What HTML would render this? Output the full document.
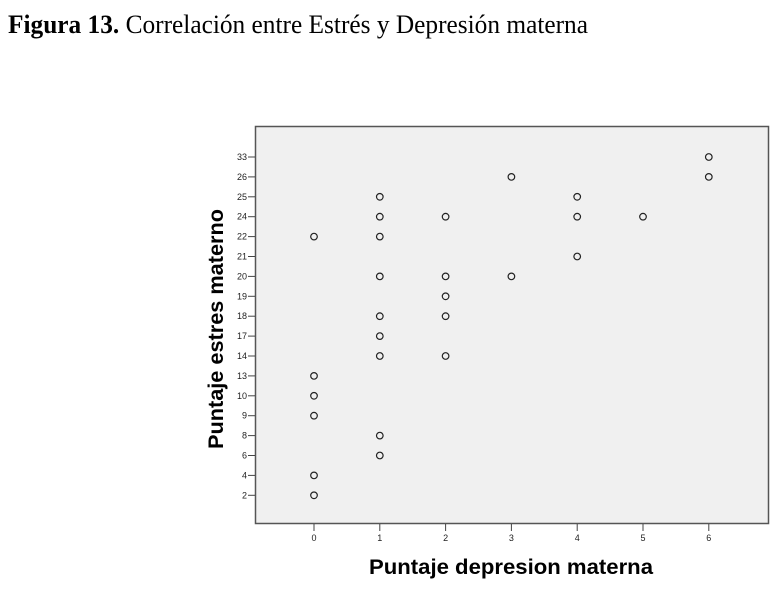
<!DOCTYPE html>
<html><head><meta charset="utf-8"><style>
body{margin:0;background:#fff;width:784px;height:587px;overflow:hidden;}
</style></head><body>
<svg width="784" height="587" xmlns="http://www.w3.org/2000/svg">
<text x="8" y="33" font-family="Liberation Serif" font-size="26" fill="#000" textLength="580" lengthAdjust="spacingAndGlyphs"><tspan font-weight="bold">Figura 13.</tspan> Correlación entre Estrés y Depresión materna</text>
<rect x="255.5" y="126.5" width="513" height="397" fill="#f0f0f0" stroke="#555" stroke-width="1.5"/>
<g font-family="Liberation Sans" font-size="9" fill="#222" text-anchor="end" stroke="#444" id="yt"></g>
<g id="pts" fill="none" stroke="#222" stroke-width="1.2"></g>
<text transform="translate(223,329) rotate(-90)" text-anchor="middle" font-family="Liberation Sans" font-weight="bold" font-size="21" textLength="240" lengthAdjust="spacingAndGlyphs">Puntaje estres materno</text>
<text x="511" y="574" text-anchor="middle" font-family="Liberation Sans" font-weight="bold" font-size="21" textLength="284" lengthAdjust="spacingAndGlyphs">Puntaje depresion materna</text>
<g id="xt" font-family="Liberation Sans" font-size="9" fill="#222" text-anchor="middle"></g>
</svg>
<script>
var ns="http://www.w3.org/2000/svg";
var labs=[33,26,25,24,22,21,20,19,18,17,14,13,10,9,8,6,4,2];
function Y(v){return 157+labs.indexOf(v)*19.9;}
function X(v){return 314+v*65.8;}
var yt=document.getElementById('yt'),xt=document.getElementById('xt'),pts=document.getElementById('pts');
labs.forEach(function(v){var y=Y(v);
var l=document.createElementNS(ns,'line');l.setAttribute('x1',248);l.setAttribute('x2',255);l.setAttribute('y1',y);l.setAttribute('y2',y);yt.appendChild(l);
var t=document.createElementNS(ns,'text');t.setAttribute('x',247);t.setAttribute('y',y+3);t.setAttribute('stroke','none');t.textContent=v;yt.appendChild(t);});
for(var i=0;i<=6;i++){var x=X(i);
var l=document.createElementNS(ns,'line');l.setAttribute('x1',x);l.setAttribute('x2',x);l.setAttribute('y1',524);l.setAttribute('y2',531);l.setAttribute('stroke','#444');xt.appendChild(l);
var t=document.createElementNS(ns,'text');t.setAttribute('x',x);t.setAttribute('y',541);t.textContent=i;xt.appendChild(t);}
var d={0:[22,13,10,9,4,2],1:[25,24,22,20,18,17,14,8,6],2:[24,20,19,18,14],3:[26,20],4:[25,24,21],5:[24],6:[33,26]};
for(var k in d)d[k].forEach(function(v){var c=document.createElementNS(ns,'circle');c.setAttribute('cx',X(+k));c.setAttribute('cy',Y(v));c.setAttribute('r',3.3);pts.appendChild(c);});
</script>
</body></html>
